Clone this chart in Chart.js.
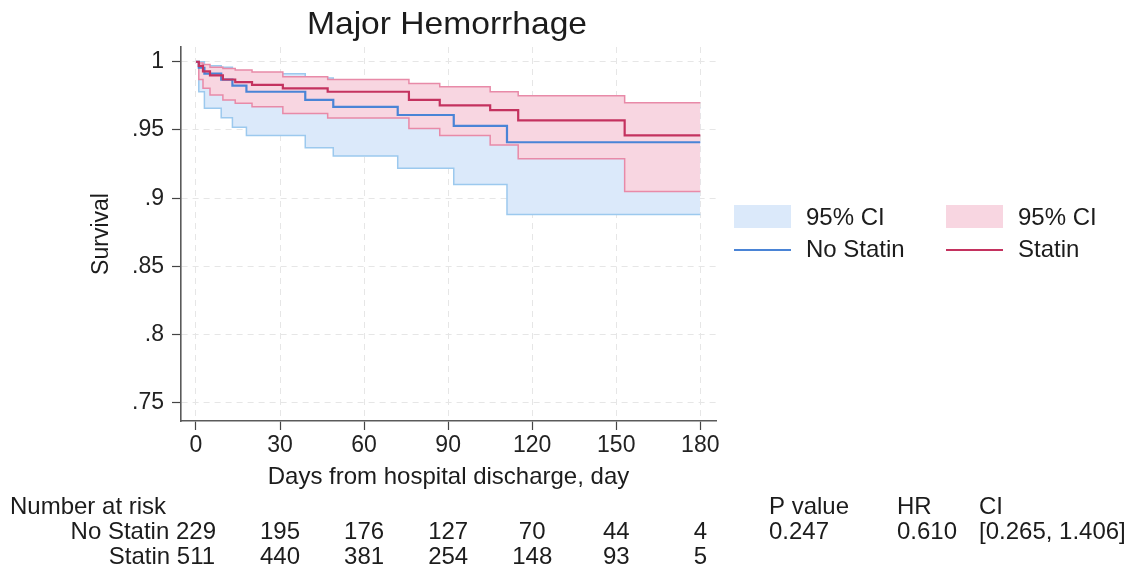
<!DOCTYPE html>
<html>
<head>
<meta charset="utf-8">
<script src="https://cdn.jsdelivr.net/npm/chart.js@4.4.1/dist/chart.umd.min.js"></script>
<style>
  html, body { margin: 0; padding: 0; background: #fff; }
  #wrap { width: 1134px; height: 572px; }
</style>
</head>
<body>
<div id="wrap"><canvas id="km" width="1134" height="572"></canvas></div>
<script>
// values
const noStatinDays  = [0, 1, 3, 9, 13, 18, 39, 49, 72, 92, 111, 180];
const noStatinSurv  = [1, 0.9956, 0.9913, 0.9869, 0.9825, 0.978, 0.972, 0.967, 0.961, 0.953, 0.941, 0.941];
const noStatinLower = [1, 0.978, 0.966, 0.959, 0.952, 0.946, 0.937, 0.931, 0.922, 0.910, 0.888, 0.888];
const noStatinUpper = [1, 1.0, 0.997, 0.996, 0.9925, 0.9912, 0.988, 0.984, 0.980, 0.975, 0.966, 0.966];

const statinDays  = [0, 1, 2.5, 5, 9.6, 14, 20, 31, 47, 76, 87, 105, 115, 153, 180];
const statinSurv  = [1, 0.997, 0.993, 0.990, 0.987, 0.985, 0.983, 0.9805, 0.978, 0.972, 0.968, 0.9646, 0.957, 0.946, 0.946];
const statinLower = [1, 0.987, 0.9805, 0.9756, 0.972, 0.9695, 0.967, 0.962, 0.9588, 0.951, 0.946, 0.939, 0.929, 0.905, 0.905];
const statinUpper = [1, 0.999, 0.998, 0.996, 0.995, 0.994, 0.9925, 0.989, 0.987, 0.984, 0.9817, 0.978, 0.975, 0.970, 0.970];

const xTicks = [0, 30, 60, 90, 120, 150, 180];
const yTicks = [0.75, 0.8, 0.85, 0.9, 0.95, 1];
const yTickLabels = ['.75', '.8', '.85', '.9', '.95', '1'];

const riskGroups = ['No Statin', 'Statin'];
const noStatinRisk = [229, 195, 176, 127, 70, 44, 4];
const statinRisk = [511, 440, 381, 254, 148, 93, 5];

const statHeads = ['P value', 'HR', 'CI'];
const statValues = ['0.247', '0.610', '[0.265, 1.406]'];

const titleText = 'Major Hemorrhage';

const FONT = '"Liberation Sans", Arial, Helvetica, sans-serif';
Chart.defaults.font.family = FONT;
Chart.defaults.color = '#222';

const blueLine = '#4a84d6', blueEdge = '#9cc9ee', blueFill = '#dbe9fa';
const pinkLine = '#c4325f', pinkEdge = '#e88aa8', pinkFill = '#f8d6e1';

function pts(days, vals) {
  return days.map((d, i) => ({ x: d, y: vals[i] }));
}

const base = { stepped: 'before', pointRadius: 0, pointHoverRadius: 0, tension: 0 };

const extras = {
  id: 'extras',
  afterDraw(chart) {
    const ctx = chart.ctx;
    const xs = chart.scales.x;
    ctx.save();
    ctx.fillStyle = '#1c1c1c';

    // title
    ctx.font = '32px ' + FONT;
    ctx.textAlign = 'center';
    ctx.textBaseline = 'alphabetic';
    const tw = ctx.measureText(titleText).width;
    ctx.save();
    ctx.translate(447, 34);
    ctx.scale(280 / tw, 1);
    ctx.fillText(titleText, 0, 0);
    ctx.restore();

    // legend (two columns)
    ctx.font = '24px ' + FONT;
    ctx.textAlign = 'left';
    ctx.textBaseline = 'middle';
    const cols = [
      { x: 734, fill: blueFill, line: blueLine, name: 'No Statin' },
      { x: 946, fill: pinkFill, line: pinkLine, name: 'Statin' }
    ];
    cols.forEach(c => {
      ctx.fillStyle = c.fill;
      ctx.fillRect(c.x, 205, 57, 23);
      ctx.strokeStyle = c.line;
      ctx.lineWidth = 2;
      ctx.beginPath();
      ctx.moveTo(c.x, 250);
      ctx.lineTo(c.x + 57, 250);
      ctx.stroke();
      ctx.fillStyle = '#1c1c1c';
      ctx.fillText('95% CI', c.x + 72, 218);
      ctx.fillText(c.name, c.x + 72, 250);
    });

    // number at risk table
    const rowY = [532, 557];
    ctx.textAlign = 'left';
    ctx.fillText('Number at risk', 10, 507);
    [noStatinRisk, statinRisk].forEach((row, r) => {
      row.forEach((n, i) => {
        ctx.textAlign = 'center';
        ctx.fillText(String(n), xs.getPixelForValue(xTicks[i]), rowY[r]);
      });
      const x0 = xs.getPixelForValue(xTicks[0]) - ctx.measureText(String(row[0])).width / 2 - ctx.measureText(' ').width;
      ctx.textAlign = 'right';
      ctx.fillText(riskGroups[r], x0, rowY[r]);
    });

    // stats
    const statX = [769, 897, 979];
    ctx.textAlign = 'left';
    statHeads.forEach((h, i) => {
      ctx.fillText(h, statX[i], 507);
      ctx.fillText(statValues[i], statX[i], 532);
    });
    ctx.restore();
  }
};

new Chart(document.getElementById('km'), {
  type: 'line',
  data: {
    datasets: [
      { ...base, label: '95% CI', data: pts(noStatinDays, noStatinUpper), borderColor: blueEdge, borderWidth: 1.5,
        backgroundColor: blueFill, fill: 1, order: 6 },
      { ...base, label: '95% CI lower', data: pts(noStatinDays, noStatinLower), borderColor: blueEdge, borderWidth: 1.5,
        fill: false, order: 5 },
      { ...base, label: '95% CI', data: pts(statinDays, statinUpper), borderColor: pinkEdge, borderWidth: 1.5,
        backgroundColor: pinkFill, fill: 3, order: 4 },
      { ...base, label: '95% CI lower', data: pts(statinDays, statinLower), borderColor: pinkEdge, borderWidth: 1.5,
        fill: false, order: 3 },
      { ...base, label: 'No Statin', data: pts(noStatinDays, noStatinSurv), borderColor: blueLine, borderWidth: 2.2,
        fill: false, order: 2 },
      { ...base, label: 'Statin', data: pts(statinDays, statinSurv), borderColor: pinkLine, borderWidth: 2.2,
        fill: false, order: 1 }
    ]
  },
  options: {
    responsive: false,
    animation: false,
    devicePixelRatio: 1,
    layout: { padding: { left: 0, right: 418, top: 47, bottom: 80 } },
    plugins: {
      legend: { display: false },
      title: { display: false },
      tooltip: { enabled: false }
    },
    scales: {
      x: {
        type: 'linear',
        min: -5.35,
        max: 185.6,
        afterBuildTicks: s => { s.ticks = xTicks.map(v => ({ value: v })); },
        afterFit: s => { s.height = 71; },
        ticks: { font: { size: 23 }, color: '#222', padding: 2, maxRotation: 0 },
        grid: { color: '#e6e6e6', lineWidth: 1, tickColor: '#444', tickLength: 9, tickWidth: 1.2 },
        border: { color: '#5a5a5a', width: 1.6, dash: [6, 5] },
        title: { display: true, text: 'Days from hospital discharge, day', font: { size: 24 }, color: '#1c1c1c',
          padding: { top: 0, bottom: 0 } }
      },
      y: {
        min: 0.7368,
        max: 1.0108,
        afterBuildTicks: s => { s.ticks = yTicks.map(v => ({ value: v })); },
        afterFit: s => { s.width = 181; },
        ticks: {
          font: { size: 23 }, color: '#222', padding: 8,
          callback: (v) => yTickLabels[yTicks.findIndex(t => Math.abs(t - v) < 1e-9)]
        },
        grid: { color: '#e6e6e6', lineWidth: 1, tickColor: '#444', tickLength: 9, tickWidth: 1.2 },
        border: { color: '#5a5a5a', width: 1.6, dash: [6, 5] },
        title: { display: true, text: 'Survival', font: { size: 23 }, color: '#1c1c1c', padding: { top: 88, bottom: 0 } }
      }
    }
  },
  plugins: [extras]
});
</script>
</body>
</html>
